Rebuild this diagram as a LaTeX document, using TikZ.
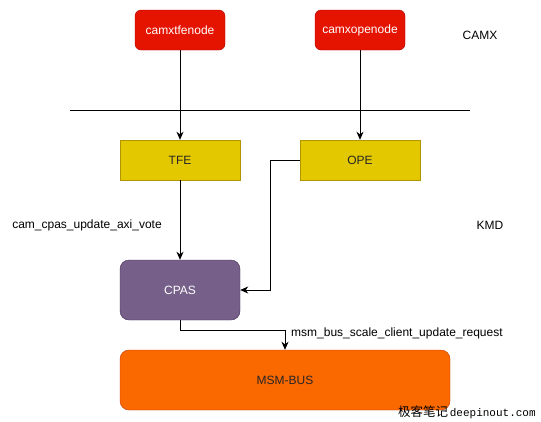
\documentclass[tikz,border=0pt]{standalone}
\usepackage{fontspec}
\setmainfont{Liberation Sans}
\newfontfamily\cjkfont{Noto Sans CJK SC}
\newfontfamily\wmmono{Liberation Mono}
\usetikzlibrary{arrows.meta}
\definecolor{redfill}{HTML}{E51400}
\definecolor{redline}{HTML}{B20000}
\definecolor{yelfill}{HTML}{E3C800}
\definecolor{yelline}{HTML}{B09500}
\definecolor{purfill}{HTML}{76608A}
\definecolor{purline}{HTML}{432D57}
\definecolor{orfill}{HTML}{FA6800}
\definecolor{orline}{HTML}{C73500}
\tikzset{
  lbl/.style={font=\fontsize{12}{14}\selectfont, inner sep=0pt},
  camxbox/.style={draw=redline, fill=redfill, text=white, rounded corners=6pt, minimum width=90pt, minimum height=40pt, lbl},
  yelbox/.style={draw=yelline, fill=yelfill, text=black!85, minimum width=120pt, minimum height=40pt, lbl},
  cpasbox/.style={draw=purline, fill=purfill, text=white, rounded corners=9pt, minimum width=120pt, minimum height=60pt, lbl},
  busbox/.style={draw=orline, fill=orfill, text=black!85, rounded corners=9pt, minimum width=330pt, minimum height=60pt, lbl},
  conn/.style={draw=black, line width=1pt, -{Stealth[length=8pt,width=7pt,inset=2.5pt]}},
}
\begin{document}
\begin{tikzpicture}[x=1pt,y=-1pt]
\useasboundingbox (0,0) rectangle (541,421);
\node[camxbox] (tfenode) at (180,30) {camxtfenode};
\node[camxbox] (openode) at (360,30) {camxopenode};
\node[lbl] (camx) at (480,35) {CAMX};
\coordinate (sepL) at (70,110);
\coordinate (sepR) at (470,110);
\draw[line width=1pt] (sepL) -- (sepR);
\node[yelbox] (tfe) at (180,160) {TFE};
\node[yelbox] (ope) at (360,160) {OPE};
\node[lbl] (axivote) at (87,225) {cam\_cpas\_update\_axi\_vote};
\node[lbl] (kmd) at (490,225) {KMD};
\node[cpasbox] (cpas) at (180,290) {CPAS};
\node[busbox] (bus) at (285,380) {MSM-BUS};
\node[lbl, anchor=west] (busreq) at (291,333) {msm\_bus\_scale\_client\_update\_request};
\draw[conn] (tfenode.south) -- (tfe.north);
\draw[conn] (openode.south) -- (ope.north);
\draw[conn] (tfe.south) -- (cpas.north);
\draw[conn] (ope.west) -- (270,160) -- (270,290) -- (cpas.east);
\draw[conn] (cpas.south) -- (180,330) -- (285,330) -- (bus.north);
\node[inner sep=0pt, anchor=west] (wm) at (398,412) {{\cjkfont\fontsize{12.5}{12}\selectfont 极客笔记}\,{\wmmono\fontsize{11}{12}\selectfont deepinout.com}};
\end{tikzpicture}
\end{document}
